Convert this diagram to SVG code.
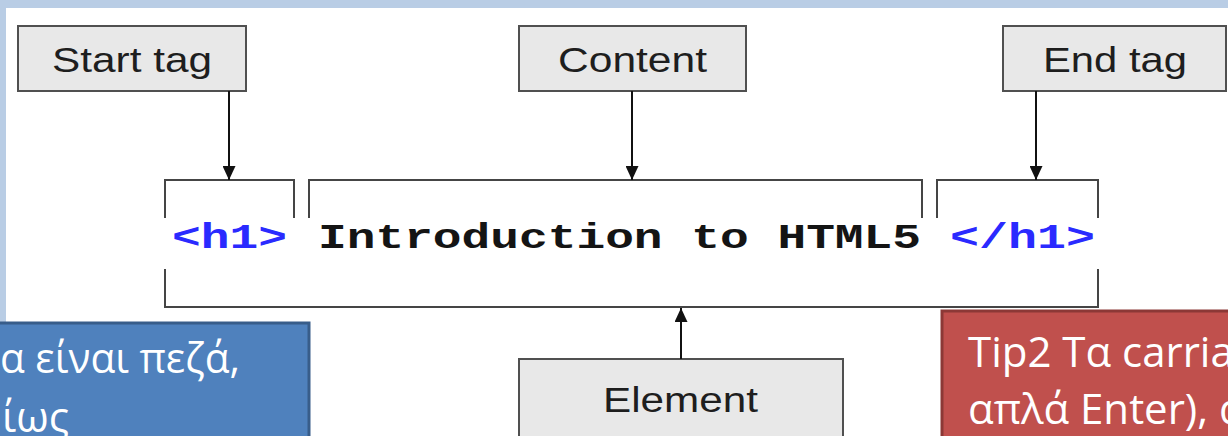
<svg xmlns="http://www.w3.org/2000/svg" width="1228" height="436" viewBox="0 0 1228 436">
  <style>
    .lbl-box { fill: #e8e8e8; stroke: #505050; stroke-width: 2; }
    .lbl { font-family: "Liberation Sans", Arial, sans-serif; font-size: 35px; fill: #1e1e1e; }
    .code { font-family: "Liberation Mono", "Courier New", monospace; font-size: 35px; font-weight: bold; }
    .tag { fill: #2a2aff; }
    .txt { fill: #141414; }
    .bracket { fill: none; stroke: #454545; stroke-width: 2; }
    .arrow { stroke: #111; stroke-width: 2; fill: none; }
    .note { font-family: "Open Sans", "Noto Sans", sans-serif; font-size: 42px; fill: #ffffff; }
  </style>
  <defs>
    <marker id="head" viewBox="0 0 14 13" refX="14" refY="6.5" markerWidth="14" markerHeight="13" markerUnits="userSpaceOnUse" orient="auto">
      <path d="M0,0 L14,6.5 L0,13 z" fill="#111"/>
    </marker>
  </defs>

  <!-- slide background -->
  <rect x="0" y="0" width="1228" height="436" fill="#b9cde5"/>
  <rect x="6" y="8" width="1222" height="428" fill="#ffffff"/>

  <!-- code line with brackets -->
  <g id="code-line">
    <path class="bracket" d="M165,218 V180 H294 V218"/>
    <path class="bracket" d="M309,218 V180 H922 V218"/>
    <path class="bracket" d="M937,218 V180 H1098 V218"/>
    <path class="bracket" d="M165,269 V307 H1098 V269"/>
    <text class="code tag" x="172" y="248" textLength="115" lengthAdjust="spacingAndGlyphs">&lt;h1&gt;</text>
    <text class="code txt" x="318" y="248" textLength="603" lengthAdjust="spacingAndGlyphs">Introduction to HTML5</text>
    <text class="code tag" x="950" y="248" textLength="145" lengthAdjust="spacingAndGlyphs">&lt;/h1&gt;</text>
  </g>

  <g id="start-tag">
    <rect class="lbl-box" x="18" y="26" width="228" height="65"/>
    <text class="lbl" x="52" y="72" textLength="160" lengthAdjust="spacingAndGlyphs">Start tag</text>
  </g>

  <g id="content">
    <rect class="lbl-box" x="519" y="26" width="227" height="65"/>
    <text class="lbl" x="558" y="72" textLength="149" lengthAdjust="spacingAndGlyphs">Content</text>
  </g>

  <g id="end-tag">
    <rect class="lbl-box" x="1003" y="26" width="223" height="65"/>
    <text class="lbl" x="1043" y="72" textLength="144" lengthAdjust="spacingAndGlyphs">End tag</text>
  </g>

  <g id="element">
    <rect class="lbl-box" x="519" y="359" width="324" height="90"/>
    <text class="lbl" x="603" y="412" textLength="155" lengthAdjust="spacingAndGlyphs">Element</text>
  </g>

  <!-- connectors -->
  <g id="connectors">
    <line class="arrow" x1="229" y1="91" x2="229" y2="180" marker-end="url(#head)"/>
    <line class="arrow" x1="632" y1="91" x2="632" y2="180" marker-end="url(#head)"/>
    <line class="arrow" x1="1036" y1="91" x2="1036" y2="180" marker-end="url(#head)"/>
    <line class="arrow" x1="681" y1="359" x2="681" y2="308" marker-end="url(#head)"/>
  </g>

  <!-- tip callouts -->
  <g id="tip1">
    <rect x="-10" y="323" width="319" height="130" fill="#4f81bd" stroke="#385d8a" stroke-width="3"/>
    <text class="note" x="0" y="373" textLength="240" lengthAdjust="spacingAndGlyphs">α είναι πεζά,</text>
    <text class="note" x="2" y="432">ίως</text>
  </g>

  <g id="tip2">
    <rect x="942" y="311" width="300" height="140" fill="#c0504d" stroke="#8c3836" stroke-width="3"/>
    <text class="note" x="968" y="367">Tip2 Τα carria</text>
    <text class="note" x="968" y="424">απλά Enter), α</text>
  </g>
</svg>
